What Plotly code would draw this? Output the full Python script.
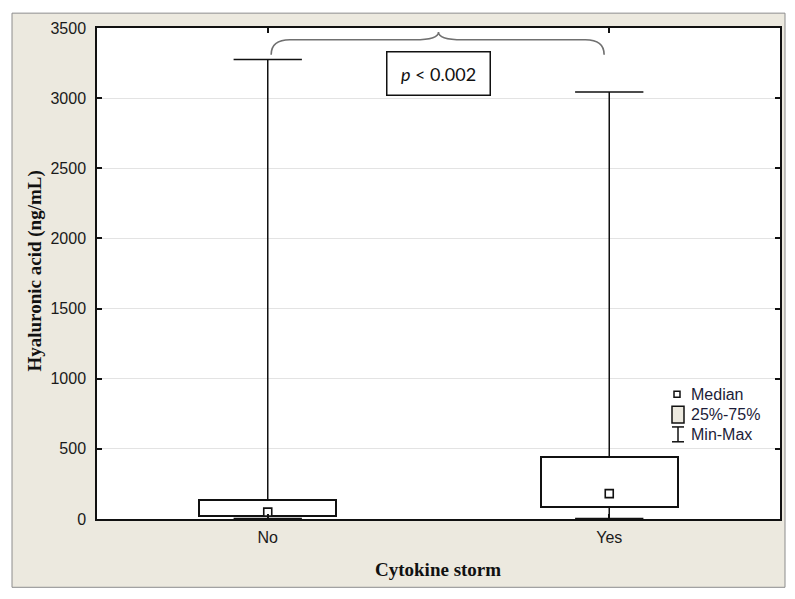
import plotly.graph_objects as go

# groups and summary statistics (ng/mL)
categories = ['No', 'Yes']
minimum = [4, 3]
q1 = [21, 88]
median = [49, 181]
q3 = [135, 445]
maximum = [3275, 3044]

y_ticks = [0, 500, 1000, 1500, 2000, 2500, 3000, 3500]
legend_labels = ['Median', '25%-75%', 'Min-Max']
p_label = '<i>p</i> < 0.002'

# brace levels above the whiskers (data units)
brace_end, brace_mid, brace_tip = 3310, 3416, 3472

W, H = 795, 599
OFF = 8  # page body margin the figure sits inside
L, R, T, B = 89, 23, 15, 88
PW, PH = W - L - R, H - T - B
BEIGE = '#ECE9DF'
INK = '#111111'


def px(x):
    # page pixel column -> paper x
    return (x - OFF - L) / PW


def py(y):
    # page pixel row -> paper y
    return (OFF + T + PH - y) / PH


xs = list(range(len(categories)))

fig = go.Figure()

# 25%-75% boxes
fig.add_trace(go.Bar(
    x=xs, y=[b - a for a, b in zip(q1, q3)], base=q1, width=0.4,
    marker=dict(color='white', line=dict(color=INK, width=2)),
    showlegend=False, hoverinfo='skip'
))

# whiskers and caps
wx, wy, cx, cy = [], [], [], []
for i in xs:
    wx += [i, i, None, i, i, None]
    wy += [q3[i], maximum[i], None, q1[i], minimum[i], None]
    cx += [i - 0.1, i + 0.1, None, i - 0.1, i + 0.1, None]
    cy += [maximum[i], maximum[i], None, minimum[i], minimum[i], None]
fig.add_trace(go.Scatter(x=wx + cx, y=wy + cy, mode='lines',
                         line=dict(color=INK, width=1.5),
                         showlegend=False, hoverinfo='skip'))

# medians
fig.add_trace(go.Scatter(
    x=xs, y=median, mode='markers',
    marker=dict(symbol='square', size=8, color='white',
                line=dict(color=INK, width=1.6)),
    showlegend=False, hovertemplate='%{y}<extra>Median</extra>'
))

# curly brace between groups
x0, x1 = xs[0] + 0.01, xs[1] - 0.015
xm = (xs[0] + xs[1]) / 2
brace = (f'M {x0},{brace_end} Q {x0},{brace_mid} {x0 + 0.055},{brace_mid} '
         f'L {xm - 0.07},{brace_mid} Q {xm},{brace_mid} {xm},{brace_tip} '
         f'Q {xm},{brace_mid} {xm + 0.07},{brace_mid} '
         f'L {x1 - 0.055},{brace_mid} Q {x1},{brace_mid} {x1},{brace_end}')

shapes = [
    # beige frame and white plot area
    dict(type='rect', xref='paper', yref='paper', x0=px(12), x1=px(785),
         y0=py(588), y1=py(8), fillcolor=BEIGE,
         line=dict(color='#8c8c8c', width=1), layer='below'),
    dict(type='rect', xref='paper', yref='paper', x0=0, x1=1, y0=0, y1=1,
         fillcolor='white', line=dict(width=0), layer='below'),
    dict(type='path', xref='x', yref='y', path=brace,
         line=dict(color='#707070', width=1.6)),
    # custom legend symbols
    dict(type='rect', xref='paper', yref='paper', x0=px(674), x1=px(680),
         y0=py(396), y1=py(390), fillcolor='white', line=dict(color=INK, width=1.5)),
    dict(type='rect', xref='paper', yref='paper', x0=px(672), x1=px(684),
         y0=py(422), y1=py(405), fillcolor=BEIGE, line=dict(color=INK, width=1.5)),
    dict(type='line', xref='paper', yref='paper', x0=px(678), x1=px(678),
         y0=py(441), y1=py(426), line=dict(color=INK, width=1.5)),
    dict(type='line', xref='paper', yref='paper', x0=px(672), x1=px(684),
         y0=py(426), y1=py(426), line=dict(color=INK, width=1.5)),
    dict(type='line', xref='paper', yref='paper', x0=px(672), x1=px(684),
         y0=py(441), y1=py(441), line=dict(color=INK, width=1.5)),
]

annotations = [
    dict(text=p_label, xref='paper', yref='paper', x=px(438), y=py(69),
         xanchor='center', yanchor='middle', showarrow=False,
         font=dict(family='Lato', size=18, color=INK),
         bgcolor='white', bordercolor=INK, borderwidth=1.5, borderpad=1,
         width=100, height=40),
    dict(text='<b>Hyaluronic acid (ng/mL)</b>', xref='paper', yref='paper',
         x=px(35), y=py(269), xanchor='center', yanchor='middle',
         textangle=-90, showarrow=False,
         font=dict(family='Liberation Serif', size=19, color=INK)),
    dict(text='<b>Cytokine storm</b>', xref='paper', yref='paper',
         x=px(438), y=py(570), xanchor='center', yanchor='middle', showarrow=False,
         font=dict(family='Liberation Serif', size=19, color=INK)),
]
for label, row in zip(legend_labels, [393, 413, 434]):
    annotations.append(dict(text=label, xref='paper', yref='paper',
                            x=px(689), y=py(row), xanchor='left', yanchor='middle',
                            showarrow=False,
                            font=dict(family='Liberation Sans', size=16, color='#1c1c38')))

fig.update_layout(
    width=W, height=H,
    margin=dict(l=L, r=R, t=T, b=B, pad=0),
    paper_bgcolor='white',
    plot_bgcolor='rgba(0,0,0,0)',
    font=dict(family='Liberation Sans', size=16, color='#1a1a1a'),
    shapes=shapes,
    annotations=annotations,
    bargap=0,
    xaxis=dict(
        range=[-0.5, 1.5], tickvals=xs, ticktext=categories,
        ticks='inside', ticklen=5, tickcolor=INK, tickwidth=1.5,
        showline=True, mirror='ticks', linecolor=INK, linewidth=1.5,
        showgrid=False, zeroline=False, ticklabelstandoff=3
    ),
    yaxis=dict(
        range=[0, 3500], tickvals=y_ticks,
        ticks='inside', ticklen=5, tickcolor=INK, tickwidth=1.5,
        showline=True, mirror='ticks', linecolor=INK, linewidth=1.5,
        showgrid=True, gridcolor='#e3e3e3', gridwidth=1, zeroline=False,
        ticklabelstandoff=6
    ),
)

fig.write_html("out.html")
